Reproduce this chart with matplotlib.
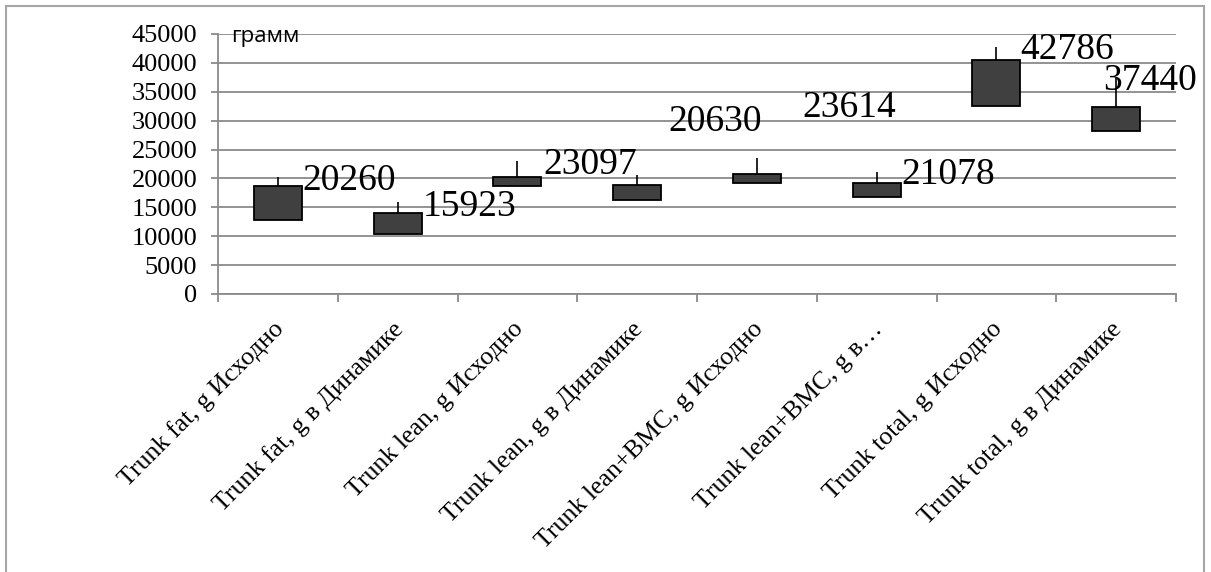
import numpy as np
import matplotlib
matplotlib.use("Agg")
from matplotlib import pyplot as plt
from matplotlib.patches import Rectangle
from matplotlib.transforms import ScaledTranslation

# stock-style chart: box = open/close, whisker up to high (labelled)
categories = [
    "Trunk fat, g Исходно",
    "Trunk fat, g в Динамике",
    "Trunk lean, g Исходно",
    "Trunk lean, g в Динамике",
    "Trunk lean+BMC, g Исходно",
    "Trunk lean+BMC, g в…",
    "Trunk total, g Исходно",
    "Trunk total, g в Динамике",
]
open_vals = [18690, 13960, 20190, 18810, 20710, 19210, 40500, 32370]
close_vals = [12810, 10330, 18750, 16320, 19260, 16790, 32540, 28160]
high_vals = [20260, 15923, 23097, 20630, 23614, 21078, 42786, 37440]
yticks = list(range(0, 45001, 5000))

# label offsets in pixels (Excel moved a couple of them)
label_offsets = [(25, -13), (25, -14), (26, -13), (31, 44),
                 (45, 41), (25, -12), (24, -12), (-13, -12)]

SERIF = "Liberation Serif"
GRID = "#8a8a8a"

W, H = 1211, 572
fig = plt.figure(figsize=(W / 100, H / 100), dpi=100)
ax = fig.add_axes([218 / W, 1 - 294 / H, (1176 - 218) / W, 260 / H])

x = np.arange(len(categories))
bottoms = np.minimum(open_vals, close_vals)
tops = np.maximum(open_vals, close_vals)

ax.vlines(x, tops, high_vals, color="black", linewidth=1.2, zorder=3)
ax.bar(x, tops - bottoms, bottom=bottoms, width=0.4, color="#404040",
       edgecolor="black", linewidth=1.3, zorder=4)

for i, (hv, off) in enumerate(zip(high_vals, label_offsets)):
    ax.annotate(str(hv), (x[i], hv), xytext=off, textcoords="offset pixels",
                ha="left", va="baseline", fontsize=27, family=SERIF, zorder=5)

ax.set_xlim(-0.5, len(categories) - 0.5)
ax.set_ylim(0, 45000)
ax.set_yticks(yticks)
ax.set_yticklabels([str(t) for t in yticks], family=SERIF, fontsize=19)
ax.tick_params(axis="y", direction="out", length=5, width=1.3, color=GRID, pad=10)

ax.set_xticks(x)
ax.set_xticklabels([])
ax.set_xticks(np.arange(-0.5, len(categories)), minor=True)
ax.tick_params(axis="x", which="major", length=0)
ax.tick_params(axis="x", which="minor", direction="out", length=6, width=1.3, color=GRID)

ax.grid(axis="y", color=GRID, linewidth=1.3)
ax.set_axisbelow(True)
for side in ["top", "right"]:
    ax.spines[side].set_visible(False)
for side in ["left", "bottom"]:
    ax.spines[side].set_color(GRID)
    ax.spines[side].set_linewidth(1.3)

# rotated category labels, anchored at the end of the baseline
shift = ScaledTranslation(7 / 100, -36 / 100, fig.dpi_scale_trans)
for i, name in enumerate(categories):
    ax.text(x[i], 0, name, transform=ax.get_xaxis_transform() + shift,
            rotation=45, rotation_mode="anchor", ha="right", va="baseline",
            fontsize=18.6, family=SERIF)

fig.text(231 / W, 1 - 42 / H, "грамм", family="Open Sans", fontsize=16,
         ha="left", va="baseline")

fig.add_artist(Rectangle((6 / W, -0.1), (1204 - 6) / W, 1.1 - 5.5 / H,
                         transform=fig.transFigure, fill=False,
                         edgecolor="#a6a6a6", linewidth=1.5))

plt.savefig("out.png", dpi=100)
